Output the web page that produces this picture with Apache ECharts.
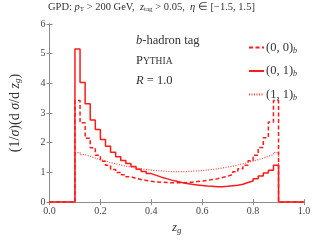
<!DOCTYPE html>
<html><head><meta charset="utf-8">
<script src="https://cdn.jsdelivr.net/npm/echarts@6/dist/echarts.min.js"></script>
<style>html,body{margin:0;padding:0;background:#fff}#c{width:320px;height:240px}</style>
</head><body><div id="c"></div>
<script>
// bin lower edges (width 0.02) from 0.10 to 0.88
var binStarts = [0.10,0.12,0.14,0.16,0.18,0.20,0.22,0.24,0.26,0.28,0.30,0.32,0.34,0.36,0.38,0.40,0.42,0.44,0.46,0.48,0.50,0.52,0.54,0.56,0.58,0.60,0.62,0.64,0.66,0.68,0.70,0.72,0.74,0.76,0.78,0.80,0.82,0.84,0.86,0.88];
var binWidth = 0.02;
var series00 = [3.42,2.67,2.15,1.83,1.58,1.38,1.24,1.10,1.00,0.92,0.85,0.80,0.76,0.73,0.70,0.68,0.67,0.66,0.65,0.65,0.65,0.66,0.67,0.69,0.71,0.73,0.76,0.79,0.83,0.87,0.93,1.02,1.12,1.24,1.39,1.58,1.84,2.17,2.70,3.42];
var series01 = [5.16,4.03,3.31,2.77,2.45,2.11,1.88,1.68,1.53,1.40,1.30,1.20,1.11,1.03,0.96,0.90,0.84,0.79,0.74,0.70,0.66,0.63,0.60,0.58,0.56,0.54,0.53,0.52,0.52,0.53,0.55,0.57,0.60,0.66,0.71,0.79,0.88,0.98,1.07,1.24];
var series11 = [1.67,1.60,1.54,1.48,1.43,1.38,1.33,1.29,1.25,1.21,1.18,1.15,1.12,1.10,1.08,1.06,1.05,1.04,1.03,1.03,1.03,1.03,1.04,1.05,1.06,1.08,1.10,1.12,1.15,1.18,1.21,1.25,1.29,1.33,1.38,1.43,1.48,1.54,1.60,1.67];
var xTicks = [0.0,0.2,0.4,0.6,0.8,1.0];
var yTicks = [0,1,2,3,4,5,6];
var legendNames = ['(0, 0)','(0, 1)','(1, 1)'];

function stepData(vals){
  var d = [[0,0]];
  for (var i=0;i<binStarts.length;i++) d.push([binStarts[i], vals[i]]);
  var end = binStarts[binStarts.length-1]+binWidth;
  d.push([+end.toFixed(2),0]);
  d.push([1,0]);
  return d;
}
var serif = 'Liberation Serif';
var red = '#ff1a1a';
var chart = echarts.init(document.getElementById('c'), null, {renderer:'canvas'});
var axisCol = '#8c8c8c';
var labStyle = {color:'#444', fontFamily:serif, fontSize:10};
chart.setOption({
  animation:false,
  grid:{left:48,right:16,top:24,bottom:37},
  xAxis:[
    {type:'value',min:0,max:1,interval:0.2,position:'bottom',
     axisLine:{lineStyle:{color:axisCol,width:1}},
     axisTick:{inside:true,length:3,lineStyle:{color:axisCol}},
     axisLabel:Object.assign({margin:4,formatter:function(v){return v.toFixed(1);}},labStyle),
     splitLine:{show:false},
     name:'{i|z}{s|g}',nameLocation:'middle',nameGap:17,
     nameTextStyle:{fontFamily:serif,rich:{i:{fontFamily:serif,fontStyle:'italic',fontSize:13,color:'#333'},s:{fontFamily:serif,fontStyle:'italic',fontSize:9,color:'#333',padding:[6,0,0,0]}}}},
    {type:'value',min:0,max:1,interval:0.2,position:'top',
     axisLine:{lineStyle:{color:axisCol}},axisTick:{inside:true,length:3,lineStyle:{color:axisCol}},
     axisLabel:{show:false},splitLine:{show:false}}
  ],
  yAxis:[
    {type:'value',min:0,max:6,interval:1,position:'left',
     axisLine:{show:true,lineStyle:{color:axisCol}},
     axisTick:{show:true,inside:true,length:3,lineStyle:{color:axisCol}},
     axisLabel:Object.assign({margin:4},labStyle),
     splitLine:{show:false},
     name:'(1/{i|σ})(d {i|σ}/d {i|z}{s|g})',nameLocation:'middle',nameGap:27,nameRotate:90,
     nameTextStyle:{fontFamily:serif,fontSize:14,color:'#333',rich:{i:{fontFamily:serif,fontStyle:'italic',fontSize:14,color:'#333'},s:{fontFamily:serif,fontStyle:'italic',fontSize:9,color:'#333',padding:[6,0,0,0]}}}},
    {type:'value',min:0,max:6,interval:1,position:'right',
     axisLine:{show:true,lineStyle:{color:axisCol}},
     axisTick:{show:true,inside:true,length:3,lineStyle:{color:axisCol}},
     axisLabel:{show:false},splitLine:{show:false}}
  ],
  legend:{
    orient:'vertical',left:243,top:36,itemWidth:15,itemHeight:10,itemGap:10,
    data:legendNames,
    itemStyle:{opacity:0,borderWidth:0},
    formatter:function(n){return n+'{s|b}';},
    textStyle:{fontFamily:serif,fontSize:12.5,color:'#333',padding:[0,0,0,-3],rich:{s:{fontFamily:serif,fontStyle:'italic',fontSize:8,color:'#333',padding:[6,0,0,0]}}}
  },
  series:[
    {name:legendNames[0],type:'line',step:'end',data:stepData(series00),showSymbol:false,symbol:'none',
     lineStyle:{color:red,width:1.5,type:[4,2.5]},itemStyle:{color:red},z:3},
    {name:legendNames[1],type:'line',step:'end',data:stepData(series01),showSymbol:false,symbol:'none',
     lineStyle:{color:red,width:1.5,type:'solid'},itemStyle:{color:red},z:4},
    {name:legendNames[2],type:'line',step:'end',data:stepData(series11),showSymbol:false,symbol:'none',
     lineStyle:{color:'#ff4040',width:1.2,type:[1,1.5]},itemStyle:{color:'#ff4040'},z:2}
  ],
  graphic:[
    {type:'text',left:48,top:2,style:{
      text:'GPD: {i|p}{s|T} > 200 GeV,  {i|z}{s|tag} > 0.05,  {i|η} ∈ [−1.5, 1.5]',
      fontFamily:serif,fontSize:10.5,fill:'#333',
      rich:{i:{fontFamily:serif,fontStyle:'italic',fontSize:10.5,fill:'#333'},s:{fontFamily:serif,fontSize:7,fill:'#333',padding:[4,0,0,0]}}}},
    {type:'text',left:136,top:34,style:{
      text:'{i|b}-hadron tag',fontFamily:serif,fontSize:12.5,fill:'#333',
      rich:{i:{fontFamily:serif,fontStyle:'italic',fontSize:12.5,fill:'#333'}}}},
    {type:'text',left:136,top:54,style:{
      text:'P{c|YTHIA}',fontFamily:serif,fontSize:12.5,fill:'#333',
      rich:{c:{fontFamily:serif,fontSize:9.5,fill:'#333',padding:[1,0,0,0]}}}},
    {type:'text',left:136,top:74,style:{
      text:'{i|R} = 1.0',fontFamily:serif,fontSize:12.5,fill:'#333',
      rich:{i:{fontFamily:serif,fontStyle:'italic',fontSize:12.5,fill:'#333'}}}}
  ]
});
</script></body></html>
